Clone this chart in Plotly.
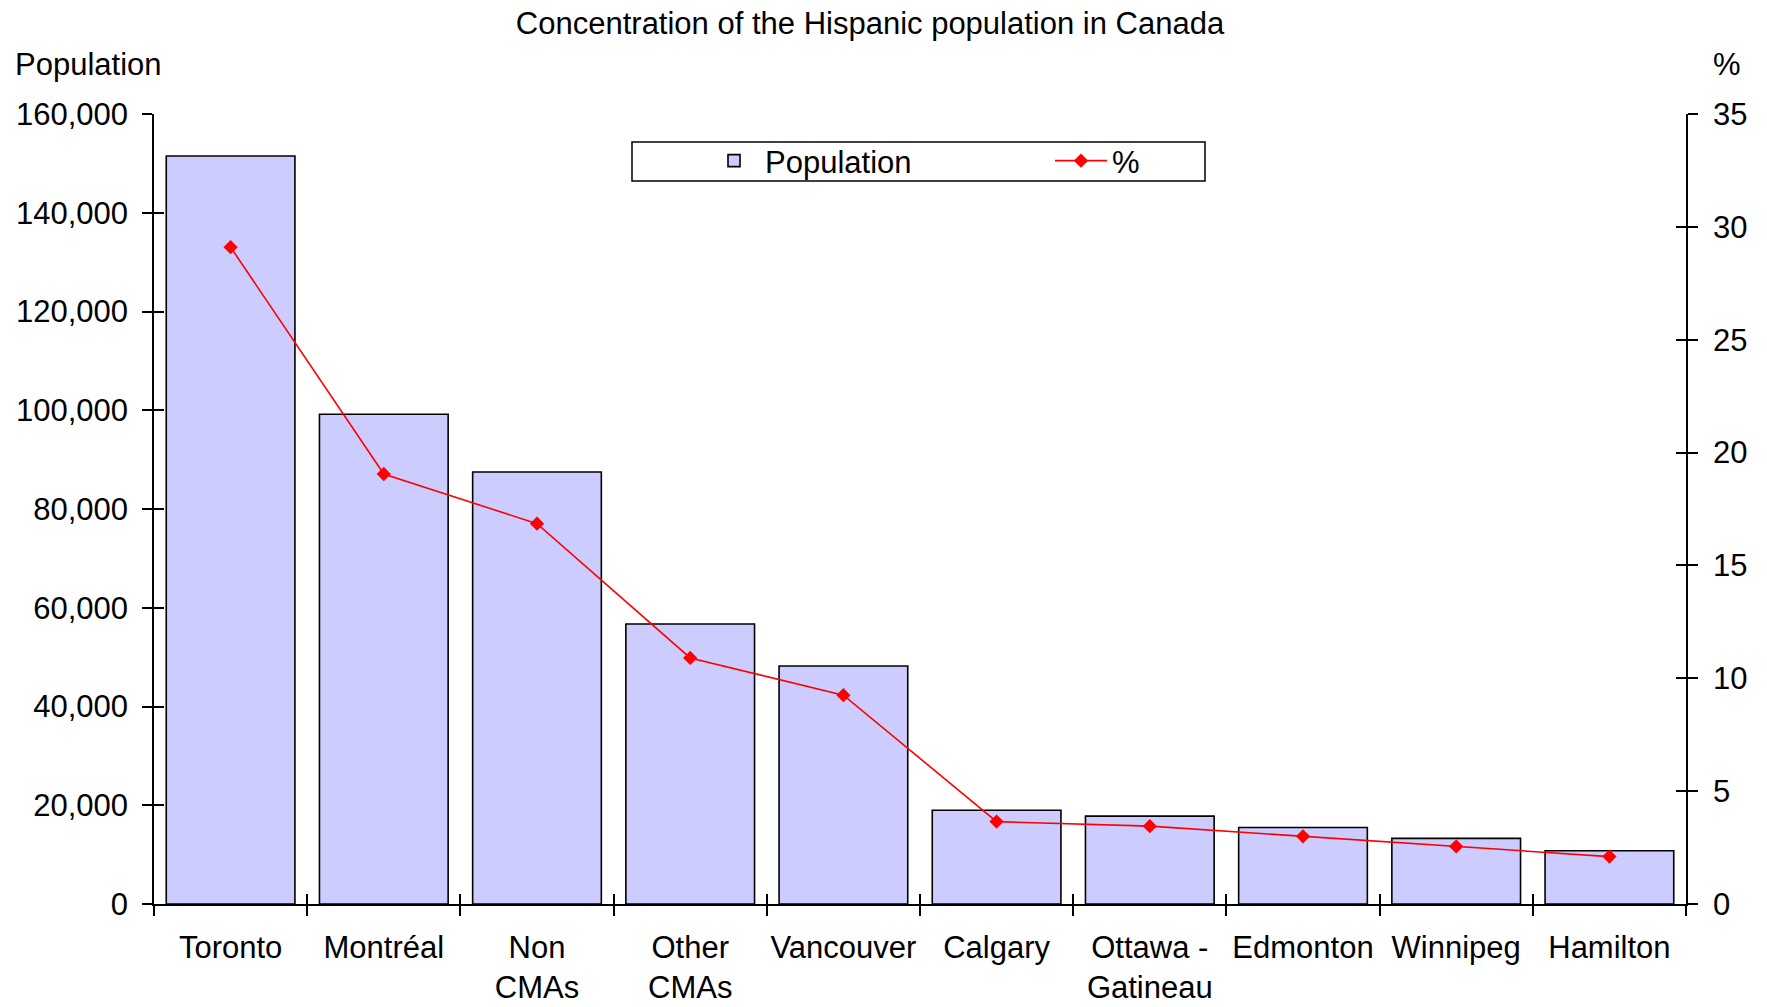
import plotly.graph_objects as go

FONT = "Liberation Sans, Arial, sans-serif"

categories = ["Toronto", "Montréal", "Non<br>CMAs", "Other<br>CMAs", "Vancouver",
              "Calgary", "Ottawa -<br>Gatineau", "Edmonton", "Winnipeg", "Hamilton"]
population = [151500, 99200, 87500, 56700, 48200, 19000, 17800, 15500, 13300, 10800]
percent = [29.1, 19.05, 16.85, 10.9, 9.25, 3.65, 3.45, 3.0, 2.55, 2.1]

# body margin is removed in post_script, so figure px == screen px
W, H = 1767, 1007
X0, X1, Y0, Y1 = 154, 1686, 114, 904  # plot area
L, R, T, B = X0, W - X1, Y0, H - Y1


def px_x(x):
    return (x - X0) / (X1 - X0)


def px_y(y):
    return (Y1 - y) / (Y1 - Y0)


fig = go.Figure()
fig.add_trace(go.Bar(
    x=categories, y=population, name="Population",
    marker=dict(color="#CCCCFF", line=dict(color="black", width=1.6)),
))
fig.add_trace(go.Scatter(
    x=categories, y=percent, name="%", yaxis="y2",
    mode="lines+markers",
    line=dict(color="#FF0000", width=1.6),
    marker=dict(symbol="diamond", size=11, color="#FF0000"),
))
# empty traces so the overlay axes (inner halves of the cross ticks) get drawn
for xa, ya in [("x2", "y3"), ("x2", "y4")]:
    fig.add_trace(go.Scatter(x=[], y=[], xaxis=xa, yaxis=ya, showlegend=False,
                             hoverinfo="skip"))

axis_common = dict(
    showgrid=False, zeroline=False, showline=True, linecolor="black", linewidth=1.5,
    ticks="outside", ticklen=10, tickwidth=1.5, tickcolor="black", automargin=False,
    tickfont=dict(family=FONT, size=31, color="black"),
)
inner = dict(showgrid=False, zeroline=False, showline=False, showticklabels=False,
             ticks="inside", ticklen=10, tickwidth=1.5, tickcolor="black", automargin=False)

fig.update_layout(
    width=W, height=H,
    paper_bgcolor="white", plot_bgcolor="white",
    font=dict(family=FONT, size=31, color="black"),
    margin=dict(l=L, r=R, t=T, b=B, pad=0),
    bargap=0.16,
    title=dict(text="Concentration of the Hispanic population in Canada",
               x=870 / W, xanchor="center", y=1 - 23 / H, yanchor="middle",
               font=dict(family=FONT, size=31, color="black")),
    xaxis=dict(axis_common, range=[-0.5, 9.5], tickson="boundaries", tickangle=0,
               ticklabelstandoff=15),
    yaxis=dict(axis_common, range=[0, 160000], dtick=20000, tickformat=",",
               ticklabelstandoff=8),
    yaxis2=dict(axis_common, range=[0, 35], dtick=5, overlaying="y", side="right",
                ticklabelstandoff=9),
    xaxis2=dict(inner, overlaying="x", side="bottom", anchor="y3", range=[-0.5, 9.5],
                tickvals=[i - 0.5 for i in range(11)]),
    yaxis3=dict(inner, overlaying="y", side="left", anchor="x2", range=[0, 160000],
                dtick=20000),
    yaxis4=dict(inner, overlaying="y", side="right", anchor="x2", range=[0, 35], dtick=5),
    showlegend=True,
    legend=dict(orientation="h", x=px_x(703), xanchor="left",
                y=px_y(161), yanchor="middle",
                bgcolor="rgba(0,0,0,0)", borderwidth=0,
                itemwidth=52, entrywidth=280,
                font=dict(family=FONT, size=31, color="black")),
    shapes=[dict(type="rect", xref="paper", yref="paper",
                 x0=px_x(632), x1=px_x(1205), y0=px_y(181), y1=px_y(142),
                 line=dict(color="black", width=1.5), fillcolor="rgba(0,0,0,0)")],
    annotations=[
        dict(text="Population", xref="paper", yref="paper", x=px_x(13), xanchor="left",
             y=px_y(64), yanchor="middle", showarrow=False,
             font=dict(family=FONT, size=31, color="black")),
        dict(text="%", xref="paper", yref="paper", x=px_x(1727), xanchor="center",
             y=px_y(64), yanchor="middle", showarrow=False,
             font=dict(family=FONT, size=31, color="black")),
    ],
)

fig.write_html("out.html", config={"displayModeBar": False},
               post_script="document.body.style.margin = '0';")
